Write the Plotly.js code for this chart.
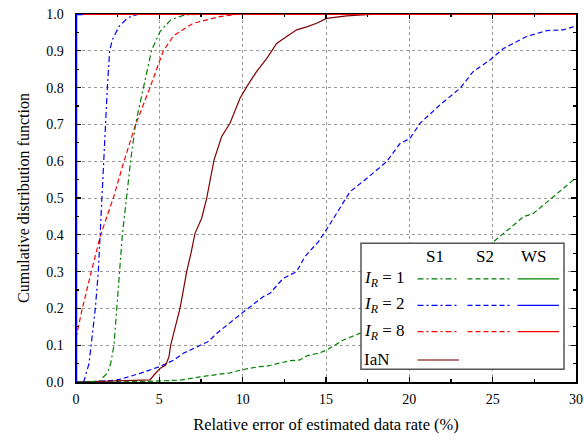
<!DOCTYPE html>
<html>
<head>
<meta charset="utf-8">
<script src="https://cdn.plot.ly/plotly-3.0.1.min.js"></script>
<style>html,body{margin:0;padding:0;background:#fff;}#chart{width:584px;height:439px;}</style>
</head>
<body>
<div id="chart"></div>
<script>
// ---- data ----
const xLabel = "Relative error of estimated data rate (%)";
const yLabel = "Cumulative distribution function";
const rowLabels = ["<i>I</i><sub><i>R</i></sub> = 1", "<i>I</i><sub><i>R</i></sub> = 2", "<i>I</i><sub><i>R</i></sub> = 8", "IaN"];
const colLabels = ["S1", "S2", "WS"];

// I_R = 1, S1 (green dash-dot)
const g1x = [0, 1.0, 1.38, 1.88, 2.08, 2.28, 2.44, 2.62, 2.78, 3.04, 3.28, 3.58, 4.04, 4.54, 5.04, 5.68, 6.48, 7.5, 30];
const g1y = [0, 0, 0.002, 0.024, 0.05, 0.1, 0.2, 0.3, 0.4, 0.504, 0.603, 0.703, 0.802, 0.902, 0.952, 0.984, 0.997, 1, 1];
// I_R = 1, S2 (green dashed)
const g2x = [0, 2, 4, 5, 6.24, 7.44, 9.24, 10.04, 11.04, 11.44, 12.84, 13.44, 13.84, 14.54, 15.04, 16.04, 16.84, 18, 20, 22, 24, 25.04, 26.04, 26.84, 27.44, 28.44, 29.24, 30];
const g2y = [0, 0, 0.001, 0.003, 0.005, 0.014, 0.025, 0.034, 0.042, 0.043, 0.058, 0.06, 0.071, 0.078, 0.087, 0.114, 0.128, 0.15, 0.2, 0.26, 0.33, 0.381, 0.418, 0.449, 0.458, 0.495, 0.526, 0.555];
// I_R = 2, S1 (blue dash-dot)
const b1x = [0.4, 0.48, 0.78, 0.92, 1.16, 1.34, 1.44, 1.58, 1.7, 1.78, 1.88, 2.02, 2.18, 2.58, 3.0, 3.28, 3.78, 30];
const b1y = [0, 0.003, 0.05, 0.1, 0.2, 0.3, 0.4, 0.52, 0.62, 0.70, 0.80, 0.90, 0.93, 0.966, 0.985, 0.993, 1.0, 1.0];
// I_R = 2, S2 (blue dashed)
const b2x = [0, 1.08, 2.48, 3.88, 5.04, 5.88, 6.44, 7.44, 7.94, 8.44, 9.2, 10.04, 11.24, 11.64, 12.44, 13.24, 13.74, 14.54, 15.14, 15.8, 16.44, 17.44, 18.64, 19.44, 20.04, 20.64, 21.84, 23.04, 23.84, 24.84, 25.64, 27.04, 28.24, 29.24, 30];
const b2y = [0, 0.001, 0.005, 0.024, 0.042, 0.06, 0.078, 0.10, 0.11, 0.132, 0.16, 0.19, 0.232, 0.241, 0.282, 0.30, 0.341, 0.381, 0.422, 0.47, 0.517, 0.553, 0.599, 0.648, 0.662, 0.703, 0.753, 0.798, 0.844, 0.875, 0.906, 0.939, 0.955, 0.957, 0.967];
// I_R = 8, S2 (red dashed)
const r2x = [0, 0.38, 0.92, 1.48, 2.24, 2.88, 3.58, 4.44, 5.24, 5.84, 6.5, 7.04, 7.84, 8.64, 9.84, 30];
const r2y = [0.12, 0.2, 0.3, 0.4, 0.5, 0.6, 0.7, 0.8, 0.9, 0.94, 0.96, 0.975, 0.984, 0.993, 1, 1];
// WS curves (step at zero)
const wsGx = [0, 0, 30], wsGy = [0, 1, 1];
const wsRx = [0, 0, 30], wsRy = [0, 1, 1];
const wsBx = [0, 0, 0.4], wsBy = [0, 1, 1];
// IaN (dark red solid)
const ianx = [0, 1, 2, 3, 4.0, 4.44, 4.68, 5.04, 5.38, 5.58, 5.68, 5.98, 6.24, 6.48, 6.64, 6.9, 7.14, 7.54, 7.84, 8.28, 8.74, 9.24, 9.84, 10.24, 10.84, 11.44, 12.04, 12.64, 13.24, 13.84, 14.44, 15.04, 16.24, 17.44, 18.24, 30];
const iany = [0, 0.001, 0.002, 0.003, 0.004, 0.006, 0.019, 0.037, 0.046, 0.069, 0.10, 0.15, 0.2, 0.259, 0.30, 0.35, 0.404, 0.445, 0.499, 0.603, 0.667, 0.703, 0.771, 0.802, 0.844, 0.879, 0.92, 0.939, 0.957, 0.965, 0.975, 0.988, 0.995, 0.998, 1.0, 1.0];

// ---- styles ----
const GREEN = "#008000", BLUE = "#0000ff", RED = "#ff0000", WINE = "#800000";
const DASHDOT = "6px,3px,2px,3px", DASH = "5px,3px";
const LW = 1.2;
const FONT = "Liberation Serif";

function tr(x, y, color, dash, w) {
  return {x: x, y: y, type: "scatter", mode: "lines", showlegend: false, hoverinfo: "skip",
          line: {color: color, dash: dash, width: w || LW}};
}
const traces = [
  tr(g2x, g2y, GREEN, DASH),
  tr(b2x, b2y, BLUE, DASH),
  tr(ianx, iany, WINE, "solid"),
  tr(r2x, r2y, RED, DASH),
  tr(g1x, g1y, GREEN, DASHDOT),
  tr(b1x, b1y, BLUE, DASHDOT),
  tr(wsGx, wsGy, GREEN, "solid", 2),
  tr(wsRx, wsRy, RED, "solid", 2),
  tr(wsBx, wsBy, BLUE, "solid", 2.5)
];

// ---- custom legend (grid: rows x columns) ----
const box = {x0: 0.57, x1: 0.976, y0: 0.0345, y1: 0.377};
const colX = [[0.683, 0.766], [0.783, 0.867], [0.883, 0.966]];
const colHeadX = [0.717, 0.818, 0.916];
const rowY = [0.280, 0.208, 0.137, 0.060];
const headY = 0.340;
const rowColors = [GREEN, BLUE, RED];
const colDash = [DASHDOT, DASH, "solid"];

const shapes = [{type: "rect", xref: "paper", yref: "paper", x0: box.x0, x1: box.x1, y0: box.y0, y1: box.y1,
                 fillcolor: "#ffffff", line: {color: "#555555", width: 1.5}, layer: "above"}];
const annotations = [];
colLabels.forEach((c, i) => annotations.push({xref: "paper", yref: "paper", x: colHeadX[i], y: headY,
  text: c, showarrow: false, xanchor: "center", yanchor: "middle", font: {family: FONT, size: 17, color: "#000"}}));
rowLabels.forEach((r, j) => {
  annotations.push({xref: "paper", yref: "paper", x: 0.571, y: rowY[j], text: r, showarrow: false,
    xanchor: "left", yanchor: "middle", font: {family: FONT, size: 17, color: "#000"}});
  if (j < 3) {
    colX.forEach((cx, i) => shapes.push({type: "line", xref: "paper", yref: "paper", x0: cx[0], x1: cx[1],
      y0: rowY[j], y1: rowY[j], layer: "above", line: {color: rowColors[j], width: LW, dash: colDash[i]}}));
  } else {
    shapes.push({type: "line", xref: "paper", yref: "paper", x0: colX[0][0], x1: colX[0][1],
      y0: rowY[j], y1: rowY[j], layer: "above", line: {color: "#a04848", width: 1.5}});
  }
});

const axisCommon = {
  showline: true, linecolor: "#000", linewidth: 1.5, mirror: "allticks",
  ticks: "inside", ticklen: 5, tickwidth: 1.2, tickcolor: "#000",
  showgrid: true, gridcolor: "#999", gridwidth: 1, griddash: "3px,3px",
  zeroline: false, tickfont: {family: FONT, size: 14, color: "#000"}
};
const layout = {
  width: 584, height: 439,
  margin: {l: 76, r: 8, t: 14, b: 57},
  paper_bgcolor: "#fff", plot_bgcolor: "#fff",
  font: {family: FONT, color: "#000"},
  showlegend: false,
  xaxis: Object.assign({}, axisCommon, {range: [0, 30], dtick: 5, tick0: 0, ticklabelstandoff: 4,
    minor: {dtick: 2.5, ticks: "inside", ticklen: 3, tickcolor: "#000", showgrid: false},
    title: {text: xLabel, font: {family: FONT, size: 16.5, color: "#000"}, standoff: 12}}),
  yaxis: Object.assign({}, axisCommon, {range: [0, 1], dtick: 0.1, tick0: 0, tickformat: ".1f", ticklabelstandoff: 8,
    minor: {dtick: 0.05, ticks: "inside", ticklen: 3, tickcolor: "#000", showgrid: false},
    title: {text: yLabel, font: {family: FONT, size: 16, color: "#000"}, standoff: 12}}),
  shapes: shapes, annotations: annotations
};
Plotly.newPlot("chart", traces, layout, {staticPlot: true, displayModeBar: false});
</script>
</body>
</html>
